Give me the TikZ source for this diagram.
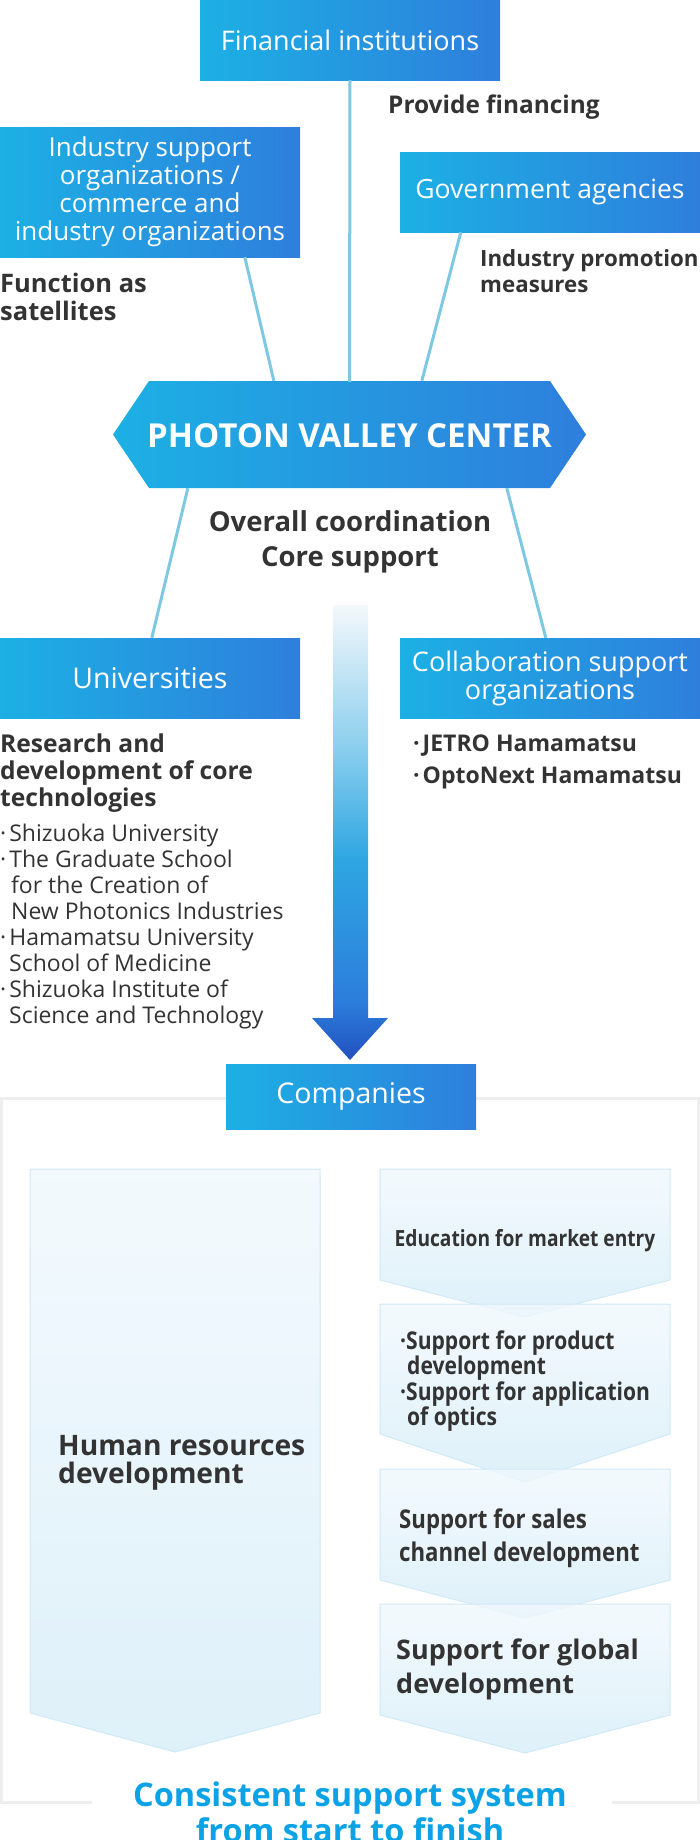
\documentclass[tikz,border=0pt]{standalone}
\usepackage{fontspec}
\setmainfont{Open Sans}
\newfontfamily\condf{Open Sans}[FakeStretch=0.86]
\usetikzlibrary{calc}
\definecolor{boxL}{HTML}{1CB0E4}
\definecolor{boxR}{HTML}{2E7FDC}
\definecolor{linkc}{HTML}{7FC8E4}
\definecolor{txt}{HTML}{333333}
\definecolor{chevT}{HTML}{F0F8FD}
\definecolor{chevB}{HTML}{D6EDF8}
\definecolor{chevE}{HTML}{CFE9F6}
\definecolor{frameg}{HTML}{EEEEEE}
\definecolor{bluet}{HTML}{0CA3E6}
\definecolor{arA}{HTML}{2250C0}
\definecolor{arB}{HTML}{2C7EDB}
\definecolor{arC}{HTML}{2EA6E2}
\definecolor{arD}{HTML}{8FD0EE}
\definecolor{arE}{HTML}{F4F8FB}
\pgfdeclareverticalshading{arrowsh}{100bp}{color(0bp)=(arA); color(25bp)=(arA); color(31.5bp)=(arB); color(47bp)=(arC); color(60bp)=(arD); color(75bp)=(arE); color(100bp)=(arE)}
\newcommand\mychev[5]{%
  \path[chevbox] (#1,#2) -- (#3,#2) -- (#3,#4) -- ({(#1+#3)/2},#5) -- (#1,#4) -- cycle;}
\tikzset{
  bluebox/.style={left color=boxL, right color=boxR, text=white, inner sep=0pt, align=center,
    font=\fontsize{27}{28}\selectfont},
  link/.style={draw=linkc, line width=3pt},
  lbl/.style={text=txt, font=\bfseries\fontsize{24.4}{26}\selectfont, inner sep=0pt, align=left, anchor=west},
  plain/.style={text=txt, font=\fontsize{23}{26}\selectfont, inner sep=0pt, align=left, anchor=west},
  chevbox/.style={top color=chevT, bottom color=chevB, draw=chevE, line width=1pt, fill opacity=0.8},
  chevtxt/.style={text=txt, font=\condf\bfseries\fontsize{22.3}{24}\selectfont, inner sep=0pt, align=left},
}
\begin{document}
\begin{tikzpicture}[x=1pt, y=-1pt]
\useasboundingbox (0,0) rectangle (700,1840);
% frame
\draw[frameg, line width=3pt] (92,1802) -- (1.5,1802) -- (1.5,1098) -- (698.5,1098) -- (698.5,1802) -- (612,1802);
% top boxes
\node[bluebox, minimum width=300pt, minimum height=80pt] (fin) at (350,40) {Financial institutions};
\node[bluebox, minimum width=300pt, minimum height=130pt, font=\fontsize{26}{28}\selectfont] (ind) at (150,192) {\rule{0pt}{4pt}Industry support\\organizations /\\commerce and\\industry organizations};
\node[bluebox, minimum width=300pt, minimum height=80pt, font=\fontsize{26.5}{28}\selectfont] (gov) at (550,192) {Government agencies};
% hexagon
\path[left color=boxL, right color=boxR] (149,381) -- (550,381) -- (586,434.5) -- (550,488) -- (149,488) -- (113,434.5) -- cycle;
\node[text=white, font=\bfseries\fontsize{33}{34}\selectfont, minimum width=401pt, minimum height=107pt, inner sep=0pt] (hex) at (349.5,435.5) {PHOTON VALLEY CENTER};
% lower boxes
\node[bluebox, minimum width=300pt, minimum height=80pt, font=\fontsize{28.5}{28}\selectfont] (univ) at (150,678) {Universities};
\node[bluebox, minimum width=300pt, minimum height=80pt] (coll) at (550,678) {Collaboration support\\organizations};
% connectors
\draw[link] (fin.south) -- (hex.north);
\draw[link] ($(ind.south west)+(245,0)$) -- ($(hex.north west)+(127,-1)$);
\draw[link] ($(gov.south west)+(61,0)$) -- ($(hex.north west)+(275,-1)$);
\draw[link] ($(hex.south west)+(41,-1)$) -- ($(univ.north west)+(152,0)$);
\draw[link] ($(hex.south west)+(360,-1)$) -- ($(coll.north west)+(146,0)$);
% labels
\node[lbl] (prov) at (388,107) {Provide financing};
\node[lbl, font=\bfseries\fontsize{22.3}{26}\selectfont] (promo) at (480,271) {Industry promotion\\measures};
\node[lbl, font=\bfseries\fontsize{25.5}{28}\selectfont] (sat) at (0,297) {Function as\\satellites};
\node[lbl, anchor=center, align=center, font=\bfseries\fontsize{27.5}{35}\selectfont] (coord) at (350,542) {Overall coordination\\Core support};
\node[lbl, font=\bfseries\fontsize{24.6}{27}\selectfont] (rnd) at (0,773.5) {Research and\\development of core\\technologies};
\node[plain] (ulist) at (0,927) {·\hspace{3pt}Shizuoka University\\·\hspace{3pt}The Graduate School\\\hspace{11pt}for the Creation of\\\hspace{11pt}New Photonics Industries\\·\hspace{3pt}Hamamatsu University\\\hspace{9pt}School of Medicine\\·\hspace{3pt}Shizuoka Institute of\\\hspace{9pt}Science and Technology};
\node[lbl, font=\bfseries\fontsize{23}{32}\selectfont] (clist) at (413,762) {·\hspace{3pt}JETRO Hamamatsu\\·\hspace{3pt}OptoNext Hamamatsu};
% big arrow
\path[shading=arrowsh] (333,605) -- (368,605) -- (368,1018) -- (388,1018) -- (350,1060) -- (312,1018) -- (333,1018) -- cycle;
% companies
\node[bluebox, minimum width=250pt, minimum height=65pt, font=\fontsize{28.5}{28}\selectfont] (comp) at (351,1096.5) {Companies};
% chevrons
\mychev{30}{1169}{320}{1713}{1752}
\mychev{380}{1169}{670}{1280}{1317}
\mychev{380}{1304}{670}{1434}{1482}
\mychev{380}{1469}{670}{1580}{1618}
\mychev{380}{1604}{670}{1715}{1753}
\node[chevtxt, anchor=west, font=\bfseries\fontsize{28.2}{28}\selectfont] (hr) at (58,1463) {Human resources\\development};
\node[chevtxt, anchor=center] (edu) at (525,1241) {Education for market entry};
\node[chevtxt, anchor=west, font=\condf\bfseries\fontsize{24.5}{24}\selectfont] (prod) at (400,1381) {·Support for product\\\hspace{7pt}development\\·Support for application\\\hspace{7pt}of optics};
\node[chevtxt, anchor=west, font=\condf\bfseries\fontsize{25.8}{33}\selectfont] (sales) at (399,1538.5) {Support for sales\\channel development};
\node[chevtxt, anchor=west, font=\bfseries\fontsize{27}{34}\selectfont] (glob) at (396,1669.5) {Support for global\\development};
% bottom slogan
\node[text=bluet, font=\bfseries\fontsize{32.5}{36}\selectfont, align=center, inner sep=0pt] (slogan) at (350,1812) {Consistent support system\\from start to finish};
\end{tikzpicture}
\end{document}
